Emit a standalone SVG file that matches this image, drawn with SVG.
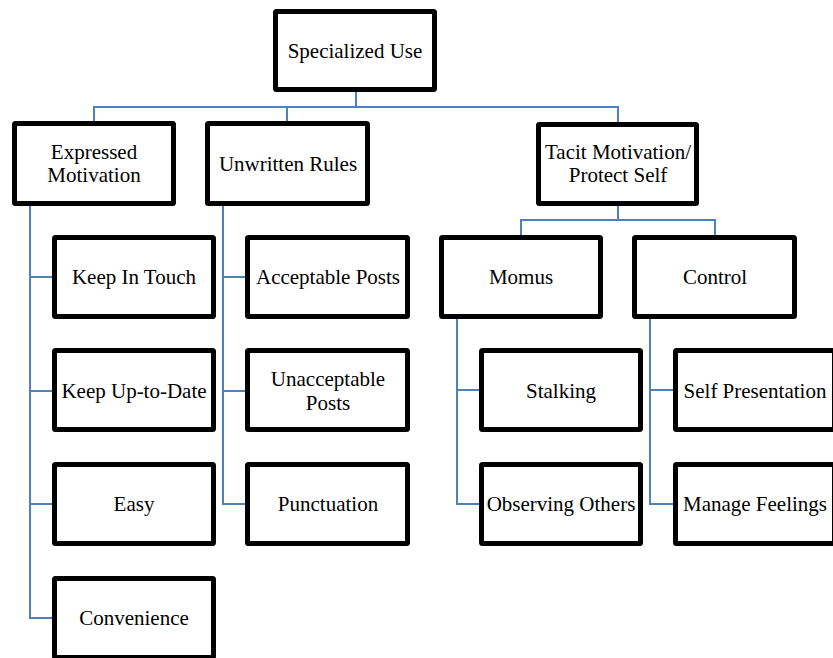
<svg xmlns="http://www.w3.org/2000/svg" width="833" height="658" viewBox="0 0 833 658">
<style>
.box{fill:#fff;stroke:#000;stroke-width:5;stroke-linejoin:round}
.lbl{font-family:"Liberation Serif","Times New Roman",serif;font-size:21px;fill:#000;text-anchor:middle}
.con{fill:none;stroke:#4F81BD;stroke-width:2}
</style>
<rect width="833" height="658" fill="#fff"/>
<g id="connectors">
<path class="con" d="M356,92 V107 M94,121 V107 H618 V122 M287,107 V121"/>
<path class="con" d="M618,206 V220 M521,235 V220 H715 V235"/>
<path class="con" d="M30,206 V618 H52 M30,277 H52 M30,391 H52 M30,504 H52"/>
<path class="con" d="M223,206 V504 H245 M223,277 H245 M223,391 H245"/>
<path class="con" d="M457,319 V504 H479 M457,390 H479"/>
<path class="con" d="M650,319 V504 H673 M650,390 H673"/>
</g>
<g id="specialized-use"><rect class="box" x="275.5" y="11.5" width="159" height="78" rx="1"/><text class="lbl" x="355" y="57.5">Specialized Use</text></g>
<g id="expressed-motivation"><rect class="box" x="14.5" y="123.5" width="159" height="80" rx="1"/><text class="lbl" x="94" y="158.5">Expressed</text><text class="lbl" x="94" y="182">Motivation</text></g>
<g id="unwritten-rules"><rect class="box" x="207.5" y="123.5" width="160" height="80" rx="1"/><text class="lbl" x="288" y="170.5">Unwritten Rules</text></g>
<g id="tacit-motivation"><rect class="box" x="538.5" y="124.5" width="158" height="79" rx="1"/><text class="lbl" x="618" y="158.5">Tacit Motivation/</text><text class="lbl" x="618" y="182">Protect Self</text></g>
<g id="keep-in-touch"><rect class="box" x="54.5" y="237.5" width="159" height="79" rx="1"/><text class="lbl" x="134" y="284">Keep In Touch</text></g>
<g id="keep-up-to-date"><rect class="box" x="54.5" y="350.5" width="159" height="79" rx="1"/><text class="lbl" x="134" y="397.5">Keep Up-to-Date</text></g>
<g id="easy"><rect class="box" x="54.5" y="464.5" width="159" height="79" rx="1"/><text class="lbl" x="134" y="511">Easy</text></g>
<g id="convenience"><rect class="box" x="54.5" y="578.5" width="159" height="79" rx="1"/><text class="lbl" x="134" y="625">Convenience</text></g>
<g id="acceptable-posts"><rect class="box" x="247.5" y="237.5" width="160" height="79" rx="1"/><text class="lbl" x="328" y="284">Acceptable Posts</text></g>
<g id="unacceptable-posts"><rect class="box" x="247.5" y="350.5" width="160" height="79" rx="1"/><text class="lbl" x="328" y="386">Unacceptable</text><text class="lbl" x="328" y="409.5">Posts</text></g>
<g id="punctuation"><rect class="box" x="247.5" y="464.5" width="160" height="79" rx="1"/><text class="lbl" x="328" y="511">Punctuation</text></g>
<g id="momus"><rect class="box" x="441.5" y="237.5" width="159" height="79" rx="1"/><text class="lbl" x="521" y="284">Momus</text></g>
<g id="control"><rect class="box" x="634.5" y="237.5" width="160" height="79" rx="1"/><text class="lbl" x="715" y="284">Control</text></g>
<g id="stalking"><rect class="box" x="481.5" y="350.5" width="159" height="79" rx="1"/><text class="lbl" x="561" y="397.5">Stalking</text></g>
<g id="observing-others"><rect class="box" x="481.5" y="464.5" width="159" height="79" rx="1"/><text class="lbl" x="561" y="511">Observing Others</text></g>
<g id="self-presentation"><rect class="box" x="675.5" y="350.5" width="159" height="79" rx="1"/><text class="lbl" x="755" y="397.5">Self Presentation</text></g>
<g id="manage-feelings"><rect class="box" x="675.5" y="464.5" width="159" height="79" rx="1"/><text class="lbl" x="755" y="511">Manage Feelings</text></g>
</svg>
